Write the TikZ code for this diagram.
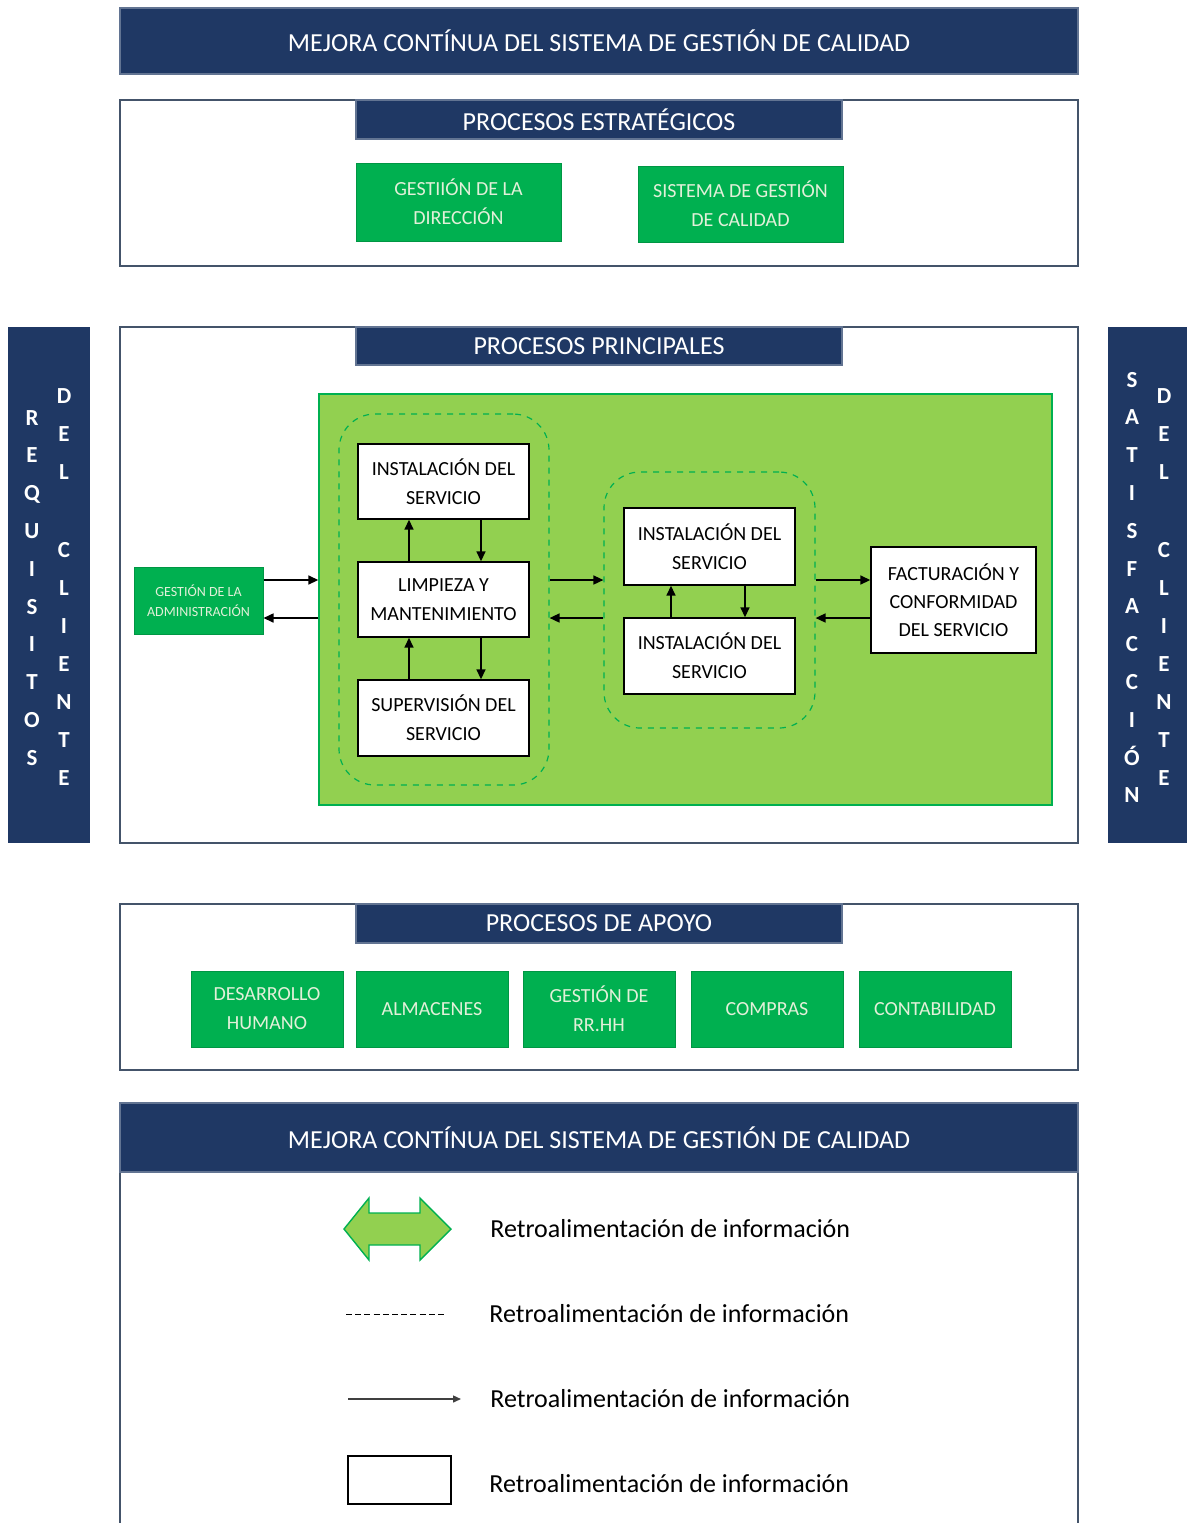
\documentclass[tikz,border=0pt]{standalone}
\usepackage{fontspec}
\setmainfont{Carlito}
\usetikzlibrary{arrows.meta}
\definecolor{navy}{HTML}{1F3864}
\definecolor{dgreen}{HTML}{00B050}
\definecolor{lgreen}{HTML}{92D050}
\definecolor{pale}{HTML}{E2F0D9}
\definecolor{frame}{HTML}{44546A}
\newcommand{\mkbox}[7]{\node[#1, minimum width={(#5-#3)*0.5pt}, minimum height={(#6-#4)*0.5pt}] (#2) at ({(#3+#5)/2},{(#4+#6)/2}) {#7};}
\begin{document}
\begin{tikzpicture}[x=0.5pt,y=-0.5pt,
  band/.style={fill=navy, draw=navy!70, line width=0.6pt, inner sep=0pt, text=white, font=\fontsize{13}{15}\selectfont},
  panel/.style={fill=white, draw=frame, line width=0.8pt, inner sep=0pt},
  gbox/.style={fill=dgreen, draw=dgreen!85!black, line width=0.5pt, inner sep=0pt, text=pale, align=center, font=\fontsize{10}{14.5}\selectfont},
  wbox/.style={fill=white, draw=black, line width=0.7pt, inner sep=0pt, align=center, font=\fontsize{10}{14.5}\selectfont},
  grp/.style={draw=dgreen, dashed, rounded corners=18pt, line width=0.6pt, inner sep=0pt},
  flow/.style={-{Triangle[length=5pt,width=4.5pt]}, line width=0.8pt},
  letter/.style={text=white, font=\fontsize{11.5}{12}\bfseries\selectfont, anchor=base, inner sep=0pt},
  legtext/.style={anchor=west, font=\fontsize{13}{15}\selectfont, inner sep=0pt}]
\useasboundingbox (0,0) rectangle (1187,1523);

% helper coordinates
\coordinate (y580) at (0,580);
\coordinate (y618) at (0,618);
\coordinate (x409) at (409,0);
\coordinate (x481) at (481,0);
\coordinate (x671) at (671,0);
\coordinate (x745) at (745,0);

% top banner
\mkbox{band}{top}{120}{8}{1078}{74}{MEJORA CONTÍNUA DEL SISTEMA DE GESTIÓN DE CALIDAD}

% strategic
\mkbox{panel}{strat}{120}{100}{1078}{266}{}
\mkbox{band}{stratH}{356}{100}{842}{139}{PROCESOS ESTRATÉGICOS}
\mkbox{gbox}{g1}{356}{163}{561}{241}{GESTIIÓN DE LA\\DIRECCIÓN}
\mkbox{gbox}{g2}{638}{166}{843}{242}{SISTEMA DE GESTIÓN\\DE CALIDAD}

% side bars
\mkbox{fill=navy, inner sep=0pt}{sideL}{8}{327}{90}{843}{}
\mkbox{fill=navy, inner sep=0pt}{sideR}{1108}{327}{1187}{843}{}
\foreach \l [count=\i] in {R,E,Q,U,I,S,I,T,O,S}
  \node[letter] (la\i) at (32,{418+37.8*(\i-1)+7}) {\l};
\foreach \l [count=\i] in {D,E,L}
  \node[letter] (lb\i) at (64,{396+38*(\i-1)+7}) {\l};
\foreach \l [count=\i] in {C,L,I,E,N,T,E}
  \node[letter] (lc\i) at (64,{550+38*(\i-1)+7}) {\l};
\foreach \l [count=\i] in {S,A,T,I,S,F,A,C,C,I,Ó,N}
  \node[letter] (ra\i) at (1132,{380+37.8*(\i-1)+7}) {\l};
\foreach \l [count=\i] in {D,E,L}
  \node[letter] (rb\i) at (1164,{396+38*(\i-1)+7}) {\l};
\foreach \l [count=\i] in {C,L,I,E,N,T,E}
  \node[letter] (rc\i) at (1164,{550+38*(\i-1)+7}) {\l};

% principal
\mkbox{panel}{princ}{120}{327}{1078}{843}{}
\mkbox{band}{princH}{356}{327}{842}{365}{PROCESOS PRINCIPALES}
\mkbox{fill=lgreen, draw=dgreen, line width=0.7pt, inner sep=0pt}{area}{319}{394}{1052}{805}{}
\mkbox{gbox, font=\fontsize{7}{10}\selectfont}{admin}{134}{567}{263}{634}{GESTIÓN DE LA\\ADMINISTRACIÓN}
\mkbox{grp}{grpL}{339}{414}{549}{785}{}
\mkbox{wbox}{i1}{358}{444}{529}{519}{INSTALACIÓN DEL\\SERVICIO}
\mkbox{wbox}{l1}{358}{562}{529}{637}{LIMPIEZA Y\\MANTENIMIENTO}
\mkbox{wbox}{s1}{358}{680}{529}{756}{SUPERVISIÓN DEL\\SERVICIO}
\mkbox{grp}{grpR}{604}{472}{815}{728}{}
\mkbox{wbox}{i2}{624}{508}{795}{585}{INSTALACIÓN DEL\\SERVICIO}
\mkbox{wbox}{i3}{624}{618}{795}{694}{INSTALACIÓN DEL\\SERVICIO}
\mkbox{wbox, font=\fontsize{10}{14}\selectfont}{fact}{871}{547}{1036}{653}{FACTURACIÓN Y\\CONFORMIDAD\\DEL SERVICIO}

\draw[flow] (admin.east |- y580) -- (area.west |- y580);
\draw[flow] (area.west |- y618) -- (admin.east |- y618);
\draw[flow] (grpL.east |- y580) -- (grpR.west |- y580);
\draw[flow] (grpR.west |- y618) -- (grpL.east |- y618);
\draw[flow] (grpR.east |- y580) -- (fact.west |- y580);
\draw[flow] (fact.west |- y618) -- (grpR.east |- y618);
\draw[flow] (l1.north -| x409) -- (i1.south -| x409);
\draw[flow] (i1.south -| x481) -- (l1.north -| x481);
\draw[flow] (s1.north -| x409) -- (l1.south -| x409);
\draw[flow] (l1.south -| x481) -- (s1.north -| x481);
\draw[flow] (i3.north -| x671) -- (i2.south -| x671);
\draw[flow] (i2.south -| x745) -- (i3.north -| x745);

% support
\mkbox{panel}{apoyo}{120}{904}{1078}{1070}{}
\mkbox{band}{apoyoH}{356}{904}{842}{943}{PROCESOS DE APOYO}
\mkbox{gbox}{a1}{191}{971}{343}{1047}{DESARROLLO\\HUMANO}
\mkbox{gbox}{a2}{356}{971}{508}{1047}{ALMACENES}
\mkbox{gbox}{a3}{523}{971}{675}{1047}{GESTIÓN DE\\RR.HH}
\mkbox{gbox}{a4}{691}{971}{843}{1047}{COMPRAS}
\mkbox{gbox}{a5}{859}{971}{1011}{1047}{CONTABILIDAD}

% legend panel
\draw[draw=frame, line width=0.8pt] (120,1523) -- (120,1103) -- (1078,1103) -- (1078,1523);
\mkbox{band}{legH}{120}{1103}{1078}{1172}{MEJORA CONTÍNUA DEL SISTEMA DE GESTIÓN DE CALIDAD}

\draw[fill=lgreen, draw=dgreen, line width=0.7pt]
  (344,1229) -- (369,1198) -- (369,1213) -- (420,1213) -- (420,1198) -- (451,1229)
  -- (420,1260) -- (420,1245) -- (369,1245) -- (369,1260) -- cycle;
\coordinate (d1) at (346,1314);
\coordinate (d2) at (444,1314);
\draw[dash pattern=on 3pt off 1.6pt, line width=0.5pt] (d1) -- (d2);
\coordinate (f1) at (348,1399);
\coordinate (f2) at (461,1399);
\draw[-{Triangle[length=4pt,width=3.5pt]}, line width=0.7pt, draw=black!75] (f1) -- (f2);
\mkbox{draw=black, line width=0.7pt, inner sep=0pt}{legbox}{348}{1456}{451}{1504}{}

\node[legtext] (t1) at (490,1229) {Retroalimentación de información};
\node[legtext] (t2) at (489,1314) {Retroalimentación de información};
\node[legtext] (t3) at (490,1399) {Retroalimentación de información};
\node[legtext] (t4) at (489,1484) {Retroalimentación de información};
\end{tikzpicture}
\end{document}
